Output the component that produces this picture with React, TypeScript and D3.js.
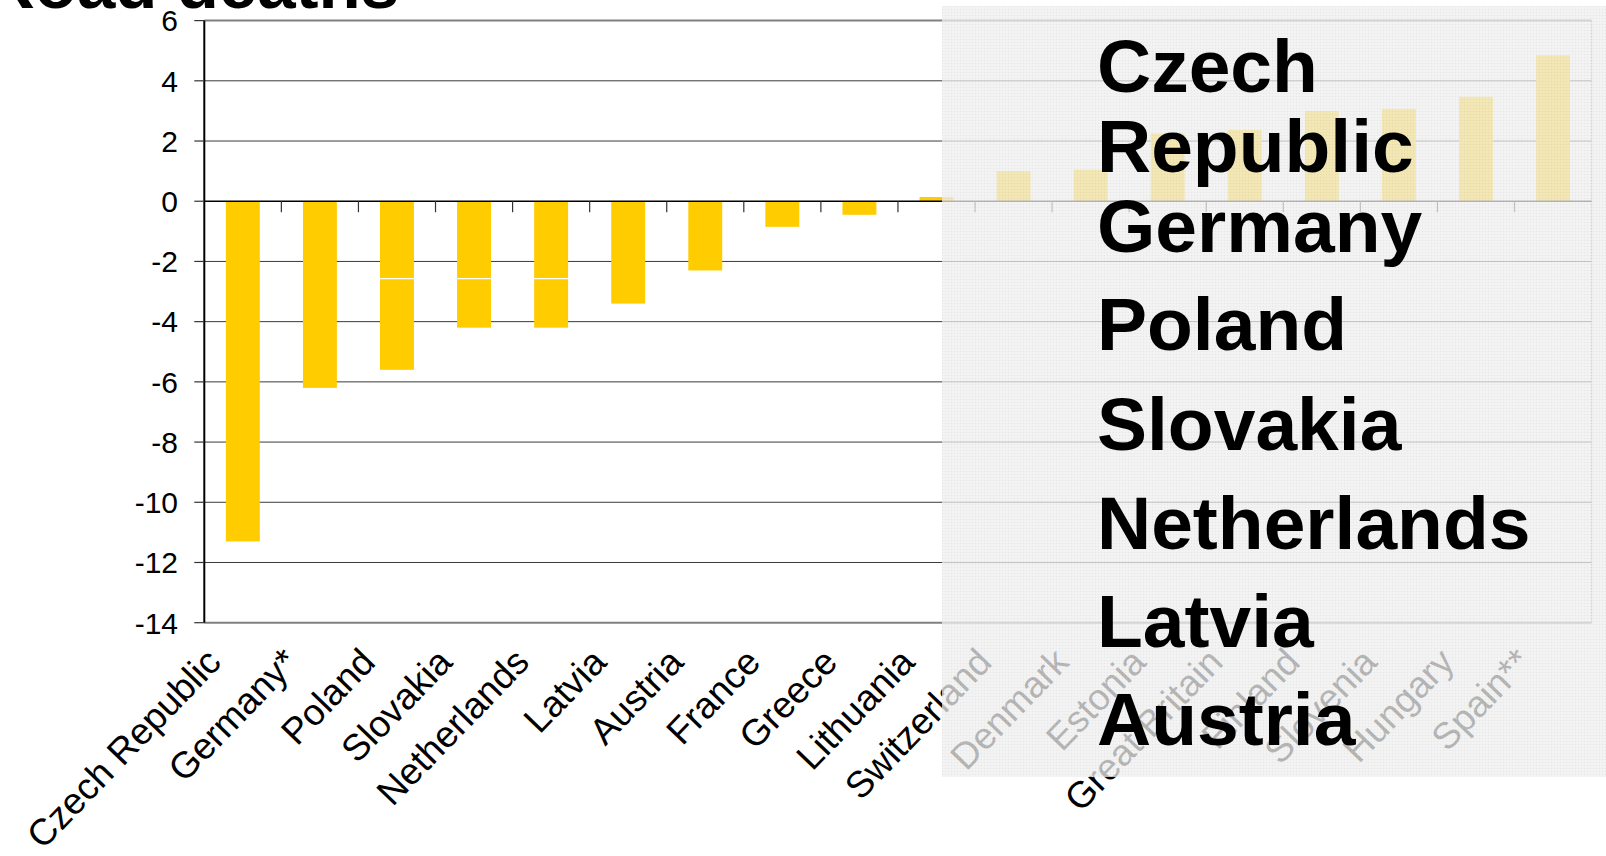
import React from "react";
import * as d3 from "d3";

const title = "Road deaths";
const categories = [
  "Czech Republic", "Germany*", "Poland", "Slovakia", "Netherlands", "Latvia",
  "Austria", "France", "Greece", "Lithuania", "Switzerland", "Denmark",
  "Estonia", "Great Britain", "Finland", "Slovenia", "Hungary", "Spain**",
];
const values = [
  -11.3, -6.2, -5.6, -4.2, -4.2, -3.4, -2.3, -0.85, -0.45, 0.14,
  1.0, 1.05, 2.25, 2.37, 3.0, 3.07, 3.47, 4.85,
];
const segmentBreaks: (number | null)[] = [
  null, null, -2.57, -2.57, -2.57, null, null, null, null, null,
  null, null, null, null, null, null, null, null,
];
const yTicks = [6, 4, 2, 0, -2, -4, -6, -8, -10, -12, -14];
const overlayLines = ["Czech", "Republic", "Germany", "Poland", "Slovakia", "Netherlands", "Latvia", "Austria"];

const W = 1606;
const H = 856;
const FONT = "'Liberation Sans', Arial, sans-serif";

export default function App() {
  const left = 204.3;
  const right = 1591.6;
  const top = 20.6;
  const bottom = 622.7;

  const x = d3.scaleBand<string>()
    .domain(categories)
    .range([left, right])
    .paddingInner(0.56)
    .paddingOuter(0.28);
  const y = d3.scaleLinear().domain([-14, 6]).range([bottom, top]);
  const step = x.step();
  const bw = x.bandwidth();

  const overlayX = 942;
  const overlayY = 6;
  const overlayBaselines = [91.7, 171.7, 252, 350, 450, 549, 647, 745];

  return (
    <svg width={W} height={H} style={{ position: "absolute", left: 0, top: 0, background: "#fff" }} fontFamily={FONT}>
      <defs>
        <pattern id="dither" width="3" height="3" patternUnits="userSpaceOnUse">
          <rect width="3" height="3" fill="#ededed" />
          <rect width="1" height="1" fill="#e0e0e0" />
          <rect x="1.5" y="1.5" width="1" height="1" fill="#f5f5f5" />
        </pattern>
      </defs>

      {/* title, mostly cut off at the top */}
      <text x={-15} y={8} fontSize={69} fontWeight="bold" fill="#000">{title}</text>

      {/* gridlines */}
      {yTicks.map((t) => {
        if (t === 6 || t === -14 || t === 0) return null;
        return <line key={"g" + t} x1={left} x2={right} y1={y(t)} y2={y(t)} stroke="#3a3a3a" strokeWidth={1} />;
      })}
      {/* plot borders */}
      <line x1={left} x2={right} y1={y(6)} y2={y(6)} stroke="#808080" strokeWidth={2} />
      <line x1={left} x2={right} y1={y(-14)} y2={y(-14)} stroke="#808080" strokeWidth={2} />
      <line x1={right} x2={right} y1={y(6)} y2={y(-14)} stroke="#808080" strokeWidth={1} strokeDasharray="2 1" />

      {/* bars */}
      {categories.map((c, i) => {
        const v = values[i];
        const x0 = x(c)!;
        const y0 = y(Math.max(0, v));
        const y1 = y(Math.min(0, v));
        return (
          <g key={"b" + c}>
            <rect x={x0} y={y0} width={bw} height={y1 - y0} fill="#FFCC00" />
            {segmentBreaks[i] !== null && (
              <line x1={x0} x2={x0 + bw} y1={y(segmentBreaks[i]!)} y2={y(segmentBreaks[i]!)} stroke="#fff" strokeWidth={1.2} />
            )}
          </g>
        );
      })}

      {/* zero line with category tick marks */}
      <line x1={left} x2={right} y1={y(0)} y2={y(0)} stroke="#000" strokeWidth={1.5} />
      {categories.slice(1).map((c, i) => {
        const tx = left + step * (i + 1);
        return <line key={"ct" + c} x1={tx} x2={tx} y1={y(0)} y2={y(0) + 11} stroke="#333" strokeWidth={1.2} />;
      })}

      {/* value axis */}
      <line x1={left} x2={left} y1={y(6)} y2={y(-14)} stroke="#000" strokeWidth={2} />
      {yTicks.map((t) => (
        <g key={"yt" + t}>
          <line x1={left - 10} x2={left} y1={y(t)} y2={y(t)} stroke="#333" strokeWidth={1.2} />
          <text x={178} y={y(t)} dy="0.36em" textAnchor="end" fontSize={30} fill="#000">{t}</text>
        </g>
      ))}

      {/* category labels */}
      {categories.map((c) => {
        const cx = x(c)! + bw / 2 - 20;
        const cy = 664;
        return (
          <text key={"xl" + c} transform={`translate(${cx},${cy}) rotate(-46)`} textAnchor="end" fontSize={37} fill="#000">{c}</text>
        );
      })}

      {/* semi-transparent overlay panel */}
      <rect x={overlayX} y={overlayY} width={W - overlayX} height={777 - overlayY} fill="url(#dither)" opacity={0.76} />

      {overlayLines.map((t, i) => (
        <text key={"ol" + t} x={1097} y={overlayBaselines[i]} fontSize={75} fontWeight="bold" fill="#000">{t}</text>
      ))}
    </svg>
  );
}
